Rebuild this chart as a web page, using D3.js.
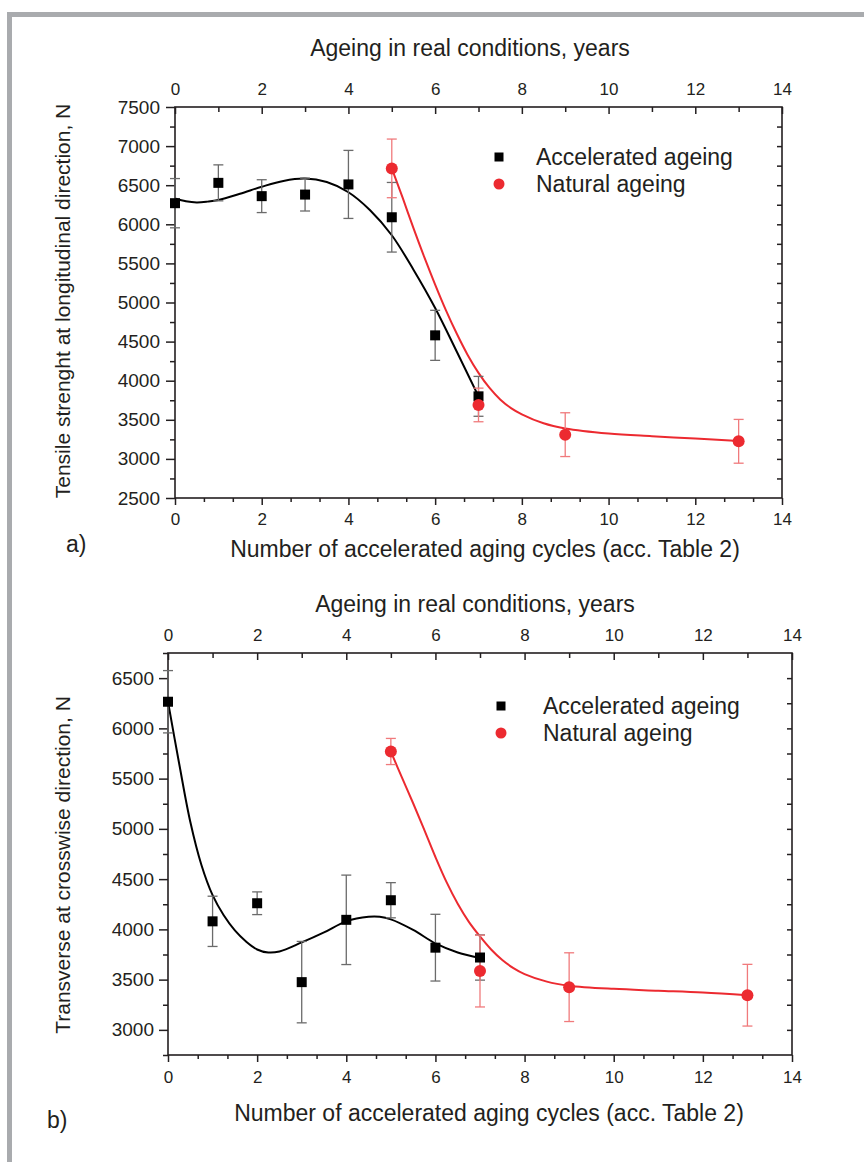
<!DOCTYPE html>
<html>
<head>
<meta charset="utf-8">
<script src="https://cdn.jsdelivr.net/npm/d3@7"></script>
<style>
  html, body { margin: 0; padding: 0; background: #fff; }
  svg { display: block; }
  text { font-family: "Liberation Sans", Arial, Helvetica, sans-serif; fill: #231f20; }
</style>
</head>
<body>
<svg id="chart" width="864" height="1162"></svg>
<script>
// ---------------- DATA ----------------
// Panel a) tensile strength, longitudinal direction
const cyclesA = [0, 1, 2, 3, 4, 5, 6, 7];
const accelA = [6270, 6530, 6360, 6380, 6510, 6090, 4580, 3800];
const accelErrA = [315, 230, 210, 210, 435, 445, 320, 255];
const yearsA = [5, 7, 9, 13];
const naturalA = [6715, 3690, 3310, 3225];
const naturalErrA = [375, 215, 280, 280];
const fitAccelAX = [0, 0.25, 0.5, 0.75, 1, 1.5, 2, 2.5, 3, 3.5, 4, 4.5, 5, 5.5, 6, 6.5, 7];
const fitAccelAY = [6330, 6295, 6280, 6290, 6310, 6390, 6480, 6555, 6585, 6540, 6410, 6180, 5860, 5420, 4930, 4370, 3800];
const fitNaturalAX = [5, 5.25, 5.5, 5.75, 6, 6.25, 6.5, 6.75, 7, 7.25, 7.5, 7.75, 8, 8.5, 9, 10, 11, 12, 13];
const fitNaturalAY = [6716, 6340, 5950, 5580, 5230, 4900, 4600, 4330, 4100, 3910, 3760, 3650, 3570, 3455, 3390, 3325, 3290, 3260, 3228];
const yTicksA = [2500, 3000, 3500, 4000, 4500, 5000, 5500, 6000, 6500, 7000, 7500];

// Panel b) transverse strength, crosswise direction
const cyclesB = [0, 1, 2, 3, 4, 5, 6, 7];
const accelB = [6265, 4080, 4260, 3475, 4095, 4290, 3818, 3720];
const accelErrB = [310, 250, 113, 405, 445, 175, 332, 225];
const yearsB = [5, 7, 9, 13];
const naturalB = [5770, 3585, 3425, 3345];
const naturalErrB = [130, 357, 342, 307];
const fitAccelBX = [0, 0.25, 0.5, 0.75, 1, 1.25, 1.5, 1.75, 2, 2.25, 2.5, 3, 3.5, 4, 4.5, 4.75, 5, 5.5, 6, 6.5, 7];
const fitAccelBY = [6265, 5650, 5070, 4640, 4340, 4140, 3990, 3880, 3800, 3770, 3780, 3870, 3970, 4080, 4125, 4125, 4100, 3995, 3860, 3770, 3715];
const fitNaturalBX = [5, 5.25, 5.5, 5.75, 6, 6.25, 6.5, 6.75, 7, 7.25, 7.5, 7.75, 8, 8.5, 9, 10, 11, 12, 13];
const fitNaturalBY = [5768, 5510, 5255, 4990, 4720, 4470, 4255, 4075, 3930, 3800, 3695, 3615, 3555, 3480, 3440, 3408, 3390, 3372, 3344];
const yTicksB = [3000, 3500, 4000, 4500, 5000, 5500, 6000, 6500];

const xTicks = [0, 2, 4, 6, 8, 10, 12, 14];
const xMinorTop = [1, 3, 5, 7, 9, 11, 13];
const xMinorBottom = [2/3, 4/3, 8/3, 10/3, 14/3, 16/3, 20/3, 22/3, 26/3, 28/3, 32/3, 34/3, 38/3, 40/3];

const topTitle = "Ageing in real conditions, years";
const bottomTitle = "Number of accelerated aging cycles (acc. Table 2)";
const yTitleA = "Tensile strenght at longitudinal direction, N";
const yTitleB = "Transverse at crosswise direction, N";
const legendLabels = ["Accelerated ageing", "Natural ageing"];

// ---------------- DRAW ----------------
const svg = d3.select("#chart");
const RED = "#ec2a30";
const RED_ERR = "#f07a7c";
const BLACK_ERR = "#6b6b6b";

// gray frame
svg.append("rect").attr("x", 7).attr("y", 12).attr("width", 864 - 7).attr("height", 5).attr("fill", "#a9abae");
svg.append("rect").attr("x", 7).attr("y", 12).attr("width", 5).attr("height", 1162 - 12).attr("fill", "#a9abae");

function panel(cfg) {
  const g = svg.append("g");
  const x = d3.scaleLinear().domain([0, 14]).range([cfg.x0, cfg.x1]);
  const y = d3.scaleLinear().domain(cfg.yDomain).range([cfg.y1, cfg.y0]);
  const yMinor = d3.range(cfg.yDomain[0], cfg.yDomain[1] + 1, 250).filter(v => v % 500 !== 0);
  const yAll = d3.range(cfg.yDomain[0], cfg.yDomain[1] + 1, 250);

  // frame
  g.append("rect").attr("x", cfg.x0).attr("y", cfg.y0)
    .attr("width", cfg.x1 - cfg.x0).attr("height", cfg.y1 - cfg.y0)
    .attr("fill", "none").attr("stroke", "#231f20").attr("stroke-width", 1.6);

  function styleAxis(sel, fontSize) {
    sel.select(".domain").remove();
    sel.selectAll("line").attr("stroke", "#231f20").attr("stroke-width", 1.5);
    sel.selectAll("text").attr("font-size", fontSize).attr("fill", "#231f20")
      .attr("font-family", '"Liberation Sans", Arial, sans-serif');
  }

  // bottom axis
  g.append("g").attr("transform", `translate(0,${cfg.y1})`)
    .call(d3.axisBottom(x).tickValues(xTicks).tickSize(7).tickPadding(cfg.bottomPad).tickFormat(d3.format("d")))
    .call(s => styleAxis(s, 17));
  g.append("g").attr("transform", `translate(0,${cfg.y1})`)
    .call(d3.axisBottom(x).tickValues(xMinorBottom).tickSize(4).tickFormat(""))
    .call(s => styleAxis(s, 17));

  // top axis (ticks inward)
  g.append("g").attr("transform", `translate(0,${cfg.y0})`)
    .call(d3.axisTop(x).tickValues(xTicks).tickSize(-7).tickPadding(cfg.topPad).tickFormat(d3.format("d")))
    .call(s => styleAxis(s, 17));
  g.append("g").attr("transform", `translate(0,${cfg.y0})`)
    .call(d3.axisTop(x).tickValues(xMinorTop).tickSize(-5).tickFormat(""))
    .call(s => styleAxis(s, 17));

  // left axis
  g.append("g").attr("transform", `translate(${cfg.x0},0)`)
    .call(d3.axisLeft(y).tickValues(cfg.yTicks).tickSize(9).tickPadding(cfg.leftPad).tickFormat(d3.format("d")))
    .call(s => styleAxis(s, 19));
  g.append("g").attr("transform", `translate(${cfg.x0},0)`)
    .call(d3.axisLeft(y).tickValues(yMinor).tickSize(5).tickFormat(""))
    .call(s => styleAxis(s, 19));

  // right axis (ticks inward, no labels)
  g.append("g").attr("transform", `translate(${cfg.x1},0)`)
    .call(d3.axisRight(y).tickValues(yAll.filter(v => v > cfg.yDomain[0] && v < cfg.yDomain[1])).tickSize(-5).tickFormat(""))
    .call(s => styleAxis(s, 19));

  // titles
  g.append("text").attr("x", cfg.topTitleX).attr("y", cfg.topTitleY).attr("text-anchor", "middle")
    .attr("font-size", 23).text(topTitle);
  g.append("text").attr("x", cfg.bottomTitleX).attr("y", cfg.bottomTitleY).attr("text-anchor", "middle")
    .attr("font-size", 23).text(bottomTitle);
  g.append("text").attr("transform", `translate(${cfg.yTitleX},${cfg.yTitleY}) rotate(-90)`)
    .attr("text-anchor", "middle").attr("font-size", 21).text(cfg.yTitle);
  g.append("text").attr("x", cfg.tagX).attr("y", cfg.tagY).attr("font-size", 23).text(cfg.tag);

  // fit curves
  const line = d3.line().x(d => x(d[0])).y(d => y(d[1])).curve(d3.curveCatmullRom.alpha(0.5));
  g.append("path").datum(cfg.fitAX.map((v, i) => [v, cfg.fitAY[i]]))
    .attr("d", line).attr("fill", "none").attr("stroke", "#000").attr("stroke-width", 2);
  g.append("path").datum(cfg.fitNX.map((v, i) => [v, cfg.fitNY[i]]))
    .attr("d", line).attr("fill", "none").attr("stroke", RED).attr("stroke-width", 2);

  // error bars
  function errorBars(xs, ys, es, color) {
    const eg = g.append("g").attr("stroke", color).attr("stroke-width", 1.3);
    xs.forEach((xv, i) => {
      const cx = x(xv), ylo = y(ys[i] - es[i]), yhi = y(ys[i] + es[i]);
      eg.append("line").attr("x1", cx).attr("x2", cx).attr("y1", ylo).attr("y2", yhi);
      eg.append("line").attr("x1", cx - 5).attr("x2", cx + 5).attr("y1", ylo).attr("y2", ylo);
      eg.append("line").attr("x1", cx - 5).attr("x2", cx + 5).attr("y1", yhi).attr("y2", yhi);
    });
  }
  errorBars(cfg.accX, cfg.acc, cfg.accErr, BLACK_ERR);
  errorBars(cfg.natX, cfg.nat, cfg.natErr, RED_ERR);

  // markers
  g.append("g").selectAll("rect").data(cfg.accX.map((v, i) => [v, cfg.acc[i]])).join("rect")
    .attr("x", d => x(d[0]) - 5).attr("y", d => y(d[1]) - 5).attr("width", 10).attr("height", 10).attr("fill", "#000");
  g.append("g").selectAll("circle").data(cfg.natX.map((v, i) => [v, cfg.nat[i]])).join("circle")
    .attr("cx", d => x(d[0])).attr("cy", d => y(d[1])).attr("r", 6).attr("fill", RED);

  // legend
  const lg = g.append("g");
  lg.append("rect").attr("x", cfg.legX - 4.5).attr("y", cfg.legY1 - 4.5).attr("width", 9).attr("height", 9).attr("fill", "#000");
  lg.append("circle").attr("cx", cfg.legX).attr("cy", cfg.legY2).attr("r", 5.5).attr("fill", RED);
  lg.append("text").attr("x", cfg.legTextX).attr("y", cfg.legY1).attr("dy", "0.36em").attr("font-size", 23).text(legendLabels[0]);
  lg.append("text").attr("x", cfg.legTextX).attr("y", cfg.legY2).attr("dy", "0.36em").attr("font-size", 23).text(legendLabels[1]);
}

panel({
  x0: 175, x1: 782, y0: 107, y1: 498, yDomain: [2500, 7500], yTicks: yTicksA,
  bottomPad: 8, topPad: 12, leftPad: 6,
  topTitleX: 470, topTitleY: 56, bottomTitleX: 485, bottomTitleY: 557,
  yTitleX: 70, yTitleY: 301, yTitle: yTitleA, tag: "a)", tagX: 66, tagY: 552,
  accX: cyclesA, acc: accelA, accErr: accelErrA,
  natX: yearsA, nat: naturalA, natErr: naturalErrA,
  fitAX: fitAccelAX, fitAY: fitAccelAY, fitNX: fitNaturalAX, fitNY: fitNaturalAY,
  legX: 499, legY1: 157, legY2: 184, legTextX: 536
});

panel({
  x0: 168, x1: 792, y0: 653, y1: 1055, yDomain: [2750, 6750], yTicks: yTicksB,
  bottomPad: 9, topPad: 12, leftPad: 5,
  topTitleX: 475, topTitleY: 612, bottomTitleX: 489, bottomTitleY: 1121,
  yTitleX: 70, yTitleY: 865, yTitle: yTitleB, tag: "b)", tagX: 47, tagY: 1128,
  accX: cyclesB, acc: accelB, accErr: accelErrB,
  natX: yearsB, nat: naturalB, natErr: naturalErrB,
  fitAX: fitAccelBX, fitAY: fitAccelBY, fitNX: fitNaturalBX, fitNY: fitNaturalBY,
  legX: 501, legY1: 706, legY2: 733, legTextX: 543
});
</script>
</body>
</html>
